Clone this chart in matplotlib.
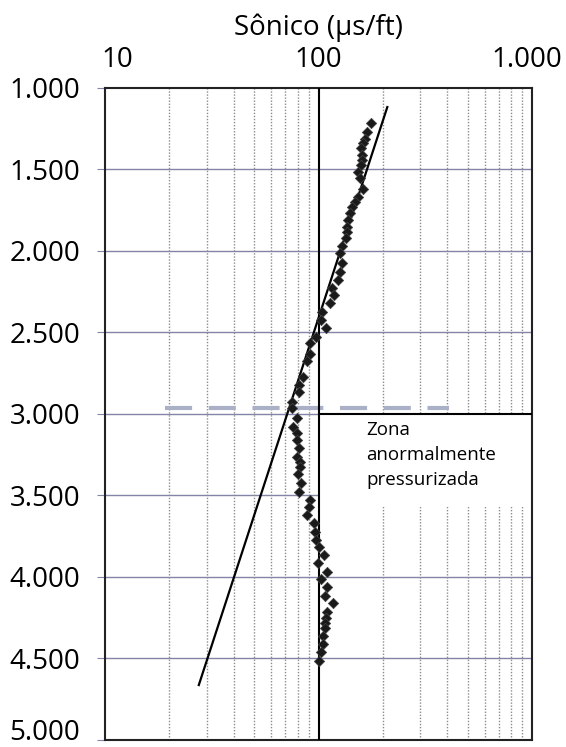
"""Sonic transit time vs depth — normal compaction trend and overpressured zone."""
import matplotlib.pyplot as plt
from matplotlib.patches import Rectangle
from matplotlib.ticker import FixedLocator, NullFormatter
from matplotlib.transforms import ScaledTranslation

plt.rcParams["font.family"] = ["Open Sans", "DejaVu Sans"]

# Data
sonic = [176, 169, 165, 161, 158, 160, 160, 158, 153, 156,
         161, 153, 148, 144, 141, 138, 136, 136, 135, 129,
         126, 129, 126, 124, 116, 118, 113, 104, 103, 108,
         97, 91, 91, 88, 85, 81, 81, 75, 75, 79,
         76, 79, 79, 81, 79, 82, 82, 80, 83, 81,
         91, 90, 88, 95, 96, 97, 100, 106, 99, 110,
         103, 110, 107, 117, 109, 108, 107, 107, 105, 105,
         103, 100]
depth = [1215, 1270, 1313, 1337, 1368, 1411, 1442, 1472, 1515, 1552,
         1620, 1669, 1699, 1730, 1767, 1810, 1853, 1883, 1920, 1969,
         2012, 2074, 2129, 2178, 2227, 2270, 2319, 2374, 2423, 2472,
         2528, 2564, 2632, 2675, 2773, 2822, 2865, 2926, 2963, 3025,
         3080, 3117, 3160, 3209, 3264, 3295, 3325, 3368, 3423, 3479,
         3528, 3571, 3620, 3669, 3724, 3773, 3816, 3865, 3914, 3969,
         4012, 4061, 4117, 4160, 4215, 4252, 4282, 4313, 4362, 4411,
         4460, 4515]

trend_sonic = [210, 27.5]
trend_depth = [1117, 4663]

top_depth = 2965          # dashed marker for top of overpressure
top_sonic = [19, 410]
zone_depth = [3000, 3570]
zone_sonic = [100, 1000]

x_ticks = [10, 100, 1000]
x_labels = ["10", "100", "1.000"]
y_ticks = [1000, 1500, 2000, 2500, 3000, 3500, 4000, 4500, 5000]
y_labels = ["1.000", "1.500", "2.000", "2.500", "3.000", "3.500", "4.000", "4.500", "5.000"]
minor_x = [m * d for d in (10, 100) for m in range(2, 10)]

fig = plt.figure(figsize=(5.66, 7.47), dpi=100)
ax = fig.add_axes([0.1855, 0.0094, 0.7545, 0.8728])

ax.set_xscale("log")
ax.set_xlim(10, 1000)
ax.set_ylim(5000, 1000)

# grid
for d in y_ticks[1:-1]:
    ax.axhline(d, color="#8484a8", lw=1, zorder=1)
for xm in minor_x:
    ax.axvline(xm, color="#8c8c8c", lw=1, ls=(0, (1, 1.2)), zorder=1)
ax.axvline(100, color="black", lw=1.5, zorder=4)

# overpressure zone box
ax.add_patch(Rectangle((zone_sonic[0], zone_depth[0]), zone_sonic[1] - zone_sonic[0],
                       zone_depth[1] - zone_depth[0], facecolor="white",
                       edgecolor="none", zorder=2))
ax.plot(zone_sonic, [zone_depth[0]] * 2, color="black", lw=1.5, zorder=4)
ax.text(167, zone_depth[0] + 45, "Zona\nanormalmente\npressurizada",
        fontsize=13.5, va="top", ha="left", linespacing=1.5, zorder=5)

ax.plot(top_sonic, [top_depth] * 2, color="#aab1c6", lw=3, ls=(0, (6.5, 4)), zorder=3)

# trend line + data
ax.plot(trend_sonic, trend_depth, color="black", lw=1.6, zorder=5)
ax.scatter(sonic, depth, marker="D", s=28, color="#1a1a1a", edgecolors="#444444",
           linewidths=0.5, zorder=6)

ax.xaxis.tick_top()
ax.xaxis.set_major_locator(FixedLocator(x_ticks))
ax.xaxis.set_minor_formatter(NullFormatter())
ax.set_xticks(x_ticks, x_labels)
ax.set_yticks(y_ticks, y_labels)
ax.tick_params(axis="x", which="both", length=0, pad=10, labelsize=20)
ax.tick_params(axis="y", length=6, color="#8484a8", pad=12, labelsize=20)
ax.xaxis.set_label_position("top")
ax.set_xlabel("Sônico (µs/ft)", fontsize=20, labelpad=8)

# small nudges seen in the scanned original
xl = ax.get_xticklabels()
xl[0].set_transform(xl[0].get_transform() + ScaledTranslation(0.12, 0, fig.dpi_scale_trans))
xl[-1].set_transform(xl[-1].get_transform() + ScaledTranslation(-0.05, 0, fig.dpi_scale_trans))
yl = ax.get_yticklabels()
yl[-1].set_transform(yl[-1].get_transform() + ScaledTranslation(0, 0.1, fig.dpi_scale_trans))

for side in ax.spines.values():
    side.set_color("#222222")
    side.set_linewidth(1.5)

fig.savefig("out.png", dpi=100)
